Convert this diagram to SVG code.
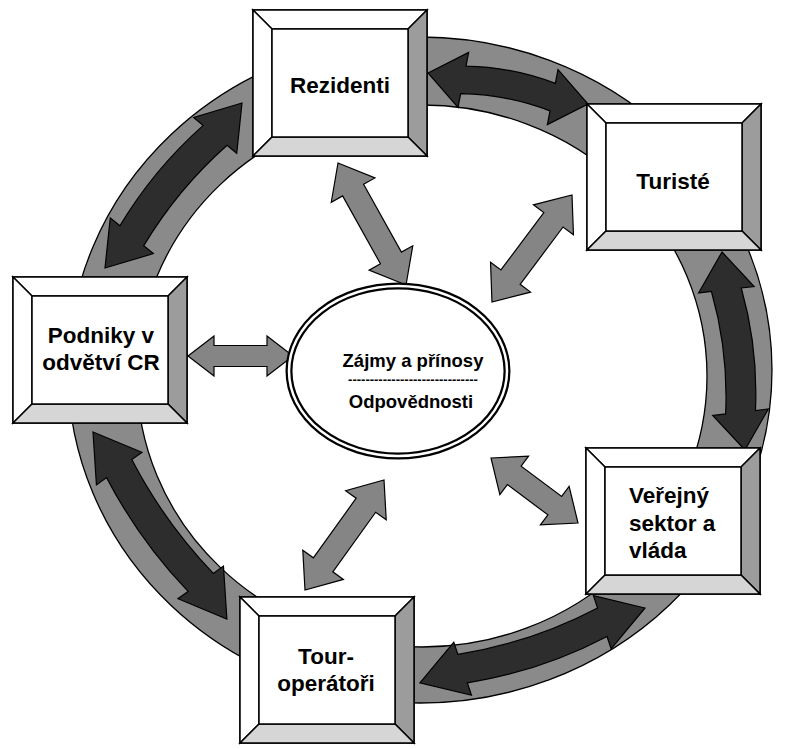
<svg xmlns="http://www.w3.org/2000/svg" width="788" height="749" viewBox="0 0 788 749">
<style>
.ring{fill:#8a8a8a;stroke:#000;stroke-width:1.3;fill-rule:evenodd}
.oarrow{fill:#2d2d2d;stroke:#000;stroke-width:1.2;stroke-linejoin:miter}
.iarrow{fill:#858585;stroke:#000;stroke-width:1.2}
.bv{stroke:#000;stroke-width:1.5;stroke-linejoin:miter}
.lbl{font-family:"Liberation Sans",Arial,sans-serif;font-weight:bold;font-size:22.5px;fill:#000}
.ctr{font-family:"Liberation Sans",Arial,sans-serif;font-weight:bold;font-size:18.5px;fill:#000}
.dash{font-family:"Liberation Sans",Arial,sans-serif;font-weight:bold;font-size:13px;fill:#000}
</style>
<defs>
<g id="box">
<rect x="0" y="0" width="174" height="146" fill="#fff" class="bv"/>
<polygon class="bv" fill="#fff" points="0,0 174,0 155,19 19,19"/>
<polygon class="bv" fill="#fff" points="0,0 19,19 19,127 0,146"/>
<polygon class="bv" fill="#9c9c9c" points="174,0 174,146 155,127 155,19"/>
<polygon class="bv" fill="#d6d6d6" points="0,146 174,146 155,127 19,127"/>
<rect x="19" y="19" width="136" height="108" fill="#fff" class="bv"/>
</g>
</defs>
<path class="ring" d="M68,370 A352,333 0 1,0 772,370 A352,333 0 1,0 68,370 Z M137,376 A285,271 0 1,0 707,376 A285,271 0 1,0 137,376 Z"/>
<g id="connectors">
<g id="outer-arrows">
<path class="oarrow" transform="translate(428,73) rotate(10.97)" d="M0,0 L36,-28 L36,-14 Q81.5,-22 127,-14 L127,-28 L163,0 L127,28 L127,14 Q81.5,6 36,14 L36,28 Z"/>
<path class="oarrow" transform="translate(242,103) rotate(129.7)" d="M0,0 L42,-28 L42,-15.5 Q107,-5.5 172.5,-15.5 L172.5,-28 L214.5,0 L172.5,28 L172.5,15.5 Q107,25.5 42,15.5 L42,28 Z"/>
<path class="oarrow" transform="translate(722,252) rotate(83.4)" d="M0,0 L38,-28 L38,-15 Q99.6,-25 161.3,-15 L161.3,-28 L199.3,0 L161.3,28 L161.3,15 Q99.6,5 38,15 L38,28 Z"/>
<path class="oarrow" transform="translate(645,608) rotate(161.6)" d="M0,0 L45,-28 L45,-15 Q118.6,-27 192.2,-15 L192.2,-28 L237.2,0 L192.2,28 L192.2,15 Q118.6,3 45,15 L45,28 Z"/>
<path class="oarrow" transform="translate(93,432) rotate(54.4)" d="M0,0 L45,-28 L45,-15.5 Q115,-5.5 185,-15.5 L185,-28 L230,0 L185,28 L185,15.5 Q115,25.5 45,15.5 L45,28 Z"/>
</g>
<g id="inner-arrows">
<path class="iarrow" transform="translate(338,163) rotate(60.86)" d="M0,0 L31,-25 L31,-12 L108.7,-12 L108.7,-25 L139.7,0 L108.7,25 L108.7,12 L31,12 L31,25 Z"/>
<path class="iarrow" transform="translate(572,195) rotate(126.8)" d="M0,0 L31,-25 L31,-12 L102.6,-12 L102.6,-25 L133.6,0 L102.6,25 L102.6,12 L31,12 L31,25 Z"/>
<path class="iarrow" transform="translate(188,356)" d="M0,0 L26,-20 L26,-10.5 L79,-10.5 L79,-20 L105,0 L79,20 L79,10.5 L26,10.5 L26,20 Z"/>
<path class="iarrow" transform="translate(491,458) rotate(36.77)" d="M0,0 L29,-24 L29,-11.5 L79.6,-11.5 L79.6,-24 L108.6,0 L79.6,24 L79.6,11.5 L29,11.5 L29,24 Z"/>
<path class="iarrow" transform="translate(305,590) rotate(-54.3)" d="M0,0 L31,-25 L31,-12 L104.4,-12 L104.4,-25 L135.4,0 L104.4,25 L104.4,12 L31,12 L31,25 Z"/>
</g>
</g>
<g id="center">
<ellipse cx="398" cy="371" rx="109" ry="85" fill="#fff" stroke="#000" stroke-width="7"/>
<ellipse cx="398" cy="371" rx="109" ry="85" fill="none" stroke="#fff" stroke-width="2.5"/>
<text class="ctr" x="413" y="367" text-anchor="middle">Zájmy a přínosy</text>
<text class="dash" x="413" y="384" text-anchor="middle">------------------------------</text>
<text class="ctr" x="411" y="408" text-anchor="middle">Odpovědnosti</text>
</g>
<g id="rezidenti">
<use href="#box" x="253" y="10"/>
<text class="lbl" x="340" y="93" text-anchor="middle">Rezidenti</text>
</g>
<g id="turiste">
<use href="#box" x="587" y="104"/>
<text class="lbl" x="673" y="189" text-anchor="middle">Turisté</text>
</g>
<g id="podniky">
<use href="#box" x="13" y="277"/>
<text class="lbl" text-anchor="middle"><tspan x="101" y="343">Podniky v</tspan><tspan x="101" y="370">odvětví CR</tspan></text>
</g>
<g id="verejny">
<use href="#box" x="586" y="448"/>
<text class="lbl"><tspan x="629" y="503">Veřejný</tspan><tspan x="629" y="531">sektor a</tspan><tspan x="629" y="558">vláda</tspan></text>
</g>
<g id="tour">
<use href="#box" x="240" y="597"/>
<text class="lbl" text-anchor="middle"><tspan x="326" y="664">Tour-</tspan><tspan x="326" y="691">operátoři</tspan></text>
</g>
</svg>
